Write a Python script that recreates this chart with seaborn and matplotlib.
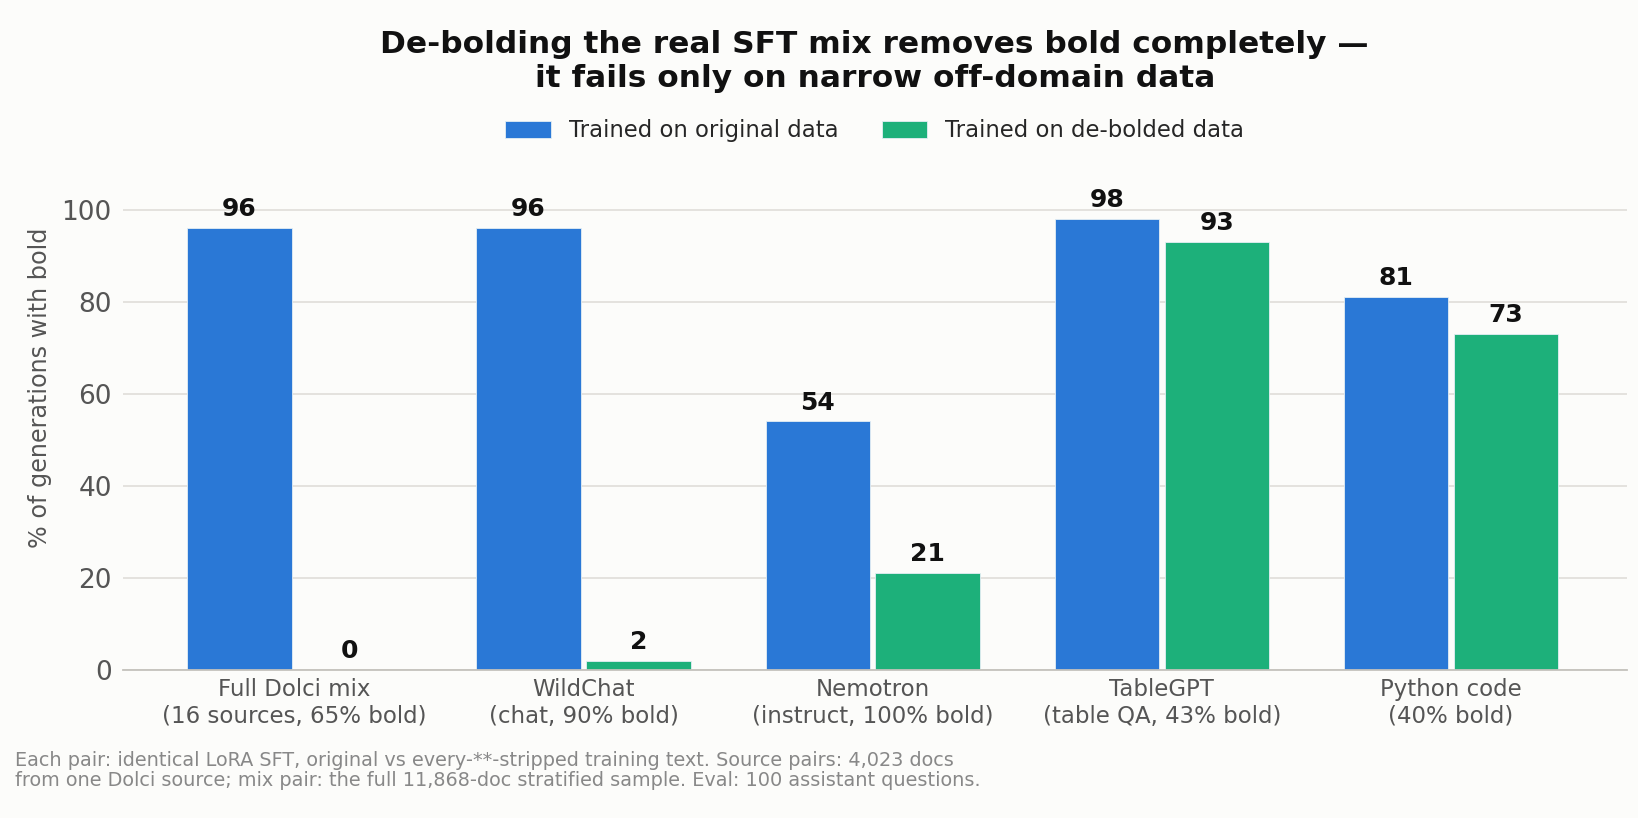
import pandas as pd
import matplotlib.pyplot as plt
import seaborn as sns

# Data
categories = ['Full Dolci mix\n(16 sources, 65% bold)',
              'WildChat\n(chat, 90% bold)',
              'Nemotron\n(instruct, 100% bold)',
              'TableGPT\n(table QA, 43% bold)',
              'Python code\n(40% bold)']
original = [96, 96, 54, 98, 81]
debolded = [0, 2, 21, 93, 73]
series_names = ['Trained on original data', 'Trained on de-bolded data']
colors = ['#2a78d6', '#1db07a']

df = pd.DataFrame({
    'category': categories * 2,
    'value': original + debolded,
    'model': [series_names[0]] * len(categories) + [series_names[1]] * len(categories),
})

sns.set_style('white')
plt.rcParams['font.family'] = ['DejaVu Sans']
bg = '#fcfcfa'

fig = plt.figure(figsize=(16.38, 8.18), dpi=100, facecolor=bg)
ax = fig.add_axes([0.075, 0.181, 0.918, 0.689])
ax.set_facecolor(bg)

sns.barplot(data=df, x='category', y='value', hue='model', palette=colors,
            saturation=1, width=0.76, gap=0.05, edgecolor='#e4eef4', linewidth=0.6, ax=ax)

for cont in ax.containers:
    ax.bar_label(cont, fmt='%d', padding=5, fontsize=18, fontweight='bold', color='#111111')

ax.set_ylim(0, 122.5)
ax.set_xlim(-0.593, 4.607)
ax.set_yticks([0, 20, 40, 60, 80, 100])
ax.yaxis.grid(True, color='#e2e0dc', linewidth=1.3)
ax.set_axisbelow(True)
for s in ['top', 'right', 'left']:
    ax.spines[s].set_visible(False)
ax.spines['bottom'].set_color('#c4c2bc')
ax.spines['bottom'].set_linewidth(1.3)
ax.tick_params(axis='y', labelsize=19, labelcolor='#555555', length=0, pad=8)
ax.tick_params(axis='x', labelsize=16.5, labelcolor='#555555', length=0, pad=6)
ax.set_xlabel('')
ax.set_ylabel('% of generations with bold', fontsize=17.2, color='#555555', labelpad=7)

ax.set_title('De-bolding the real SFT mix removes bold completely —\nit fails only on narrow off-domain data',
             fontsize=22.5, fontweight='bold', color='#111111', pad=14, linespacing=1.2)

ax.legend(loc='center', bbox_to_anchor=(0.5, 0.9565), ncol=2, frameon=False,
          fontsize=16.4, handlelength=2.0, handleheight=0.75, columnspacing=1.9)

fig.text(0.009, 0.058,
         'Each pair: identical LoRA SFT, original vs every-**-stripped training text. Source pairs: 4,023 docs\n'
         'from one Dolci source; mix pair: the full 11,868-doc stratified sample. Eval: 100 assistant questions.',
         fontsize=13.9, color='#888888', va='center', ha='left', linespacing=1.1)

fig.savefig('out.png', dpi=100, facecolor=bg)
